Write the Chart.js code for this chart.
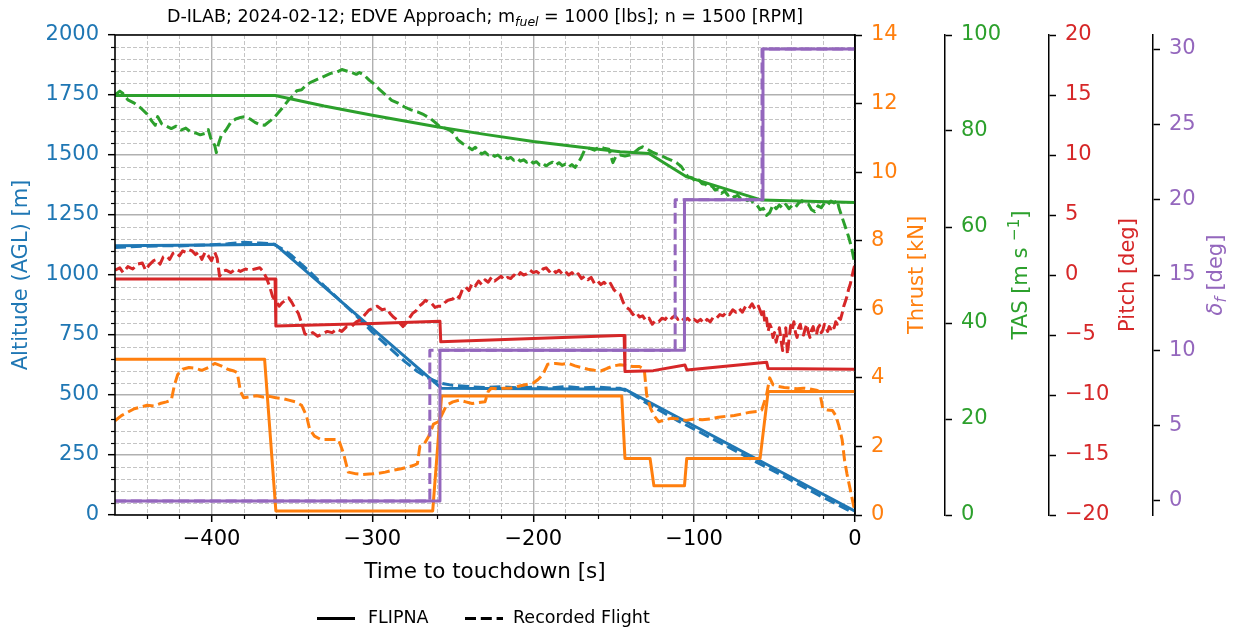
<!DOCTYPE html>
<html>
<head>
<meta charset="utf-8">
<script src="https://cdn.jsdelivr.net/npm/chart.js@4.4.1/dist/chart.umd.min.js"></script>
<style>
  html, body { margin: 0; padding: 0; background: #ffffff; }
  #wrap { width: 1236px; height: 632px; }
</style>
</head>
<body>
<div id="wrap"><canvas id="c" width="1236" height="632"></canvas></div>
<script>
// ---- Tick positions -------------------------------------------------------
const xMajorTicks = [-400, -300, -200, -100, 0];
const xMinorTicks = [-440, -420, -380, -360, -340, -320, -280, -260, -240, -220,
                     -180, -160, -140, -120, -80, -60, -40, -20];
const altTicks = [0, 250, 500, 750, 1000, 1250, 1500, 1750, 2000];
const altMinorTicks = [50, 100, 150, 200, 300, 350, 400, 450, 550, 600, 650, 700,
                       800, 850, 900, 950, 1050, 1100, 1150, 1200, 1300, 1350, 1400, 1450,
                       1550, 1600, 1650, 1700, 1800, 1850, 1900, 1950];
const thrustTicks = [0, 2, 4, 6, 8, 10, 12, 14];
const tasTicks = [0, 20, 40, 60, 80, 100];
const pitchTicks = [-20, -15, -10, -5, 0, 5, 10, 15, 20];
const flapTicks = [0, 5, 10, 15, 20, 25, 30];

// ---- FLIPNA simulation (time [s] / value) ---------------------------------
const altModelT = [-460, -400, -360.5, -257, -200, -143, 0];
const altModelV = [1122, 1125, 1128, 528, 526, 524, 16];

const thrModelT = [-460, -367, -360, -262.5, -257, -145, -143, -127.4, -125, -106, -104.6, -59, -54, 0];
const thrModelV = [4.54, 4.54, 0.12, 0.12, 3.47, 3.47, 1.65, 1.65, 0.85, 0.85, 1.65, 1.65, 3.6, 3.6];

const tasModelT = [-460, -360.5, -330, -300, -260, -230, -200, -170, -146, -128, -105, -58, 0];
const tasModelV = [87.4, 87.4, 85.2, 83.3, 80.9, 79.3, 77.8, 76.6, 75.7, 75.3, 70.5, 65.6, 65.1];

const pitchModelT = [-460, -360.5, -360, -300, -258, -257.5, -200, -146, -143.5, -143, -125.4, -105.7, -104.5,
                     -54.9, -54, 0];
const pitchModelV = [-0.33, -0.33, -4.25, -4.05, -3.85, -5.57, -5.3, -5.05, -5.05, -8.05, -7.97, -7.5, -7.92,
                     -7.28, -7.8, -7.86];

const flapModelT = [-460, -258, -258, -106, -106, -57.2, -57.2, 0];
const flapModelV = [0, 0, 10, 10, 20, 20, 30, 30];

// ---- Recorded flight ([time s, value]) ------------------------------------
const altRec = [
  [-460, 1115], [-450, 1118], [-440, 1120], [-430, 1122], [-420, 1121], [-410, 1124], [-400, 1126],
  [-390, 1130], [-380, 1136], [-370, 1133], [-362, 1130], [-355, 1105], [-350, 1080], [-340, 1020],
  [-330, 955], [-320, 893], [-310, 830], [-300, 762], [-290, 700], [-280, 640], [-272, 598], [-265, 570],
  [-258, 550], [-250, 540], [-240, 535], [-230, 531], [-220, 534], [-210, 530], [-200, 533], [-190, 529],
  [-180, 535], [-170, 530], [-160, 533], [-152, 529], [-146, 528], [-140, 510], [-130, 468], [-120, 430],
  [-110, 392], [-100, 358], [-90, 322], [-80, 288], [-70, 252], [-60, 216], [-50, 182], [-40, 146],
  [-30, 110], [-20, 74], [-10, 40], [-2, 12]
];

const thrRec = [
  [-460, 2.75], [-456, 2.9], [-452, 3.0], [-448, 3.1], [-444, 3.15], [-440, 3.2], [-436, 3.18], [-432, 3.25],
  [-428, 3.3], [-425, 3.35], [-423, 3.8], [-421, 4.1], [-418, 4.25], [-414, 4.3], [-410, 4.28], [-406, 4.22],
  [-402, 4.3], [-398, 4.42], [-394, 4.35], [-390, 4.25], [-386, 4.2], [-384, 4.15], [-382, 3.6], [-380, 3.42],
  [-376, 3.45], [-372, 3.48], [-368, 3.44], [-364, 3.46], [-360, 3.42], [-356, 3.4], [-352, 3.35], [-348, 3.3],
  [-344, 3.2], [-341, 2.9], [-339, 2.5], [-336, 2.3], [-332, 2.2], [-326, 2.2], [-321, 2.2], [-318, 1.8],
  [-315, 1.25], [-310, 1.2], [-306, 1.18], [-300, 1.2], [-296, 1.22], [-292, 1.25], [-288, 1.3], [-282, 1.35],
  [-278, 1.4], [-274, 1.45], [-272, 1.5], [-270.5, 2.0], [-268, 2.05], [-265, 2.3], [-262, 2.65], [-259, 2.72],
  [-256, 3.0], [-254, 3.2], [-250, 3.3], [-246, 3.35], [-242, 3.3], [-238, 3.25], [-234, 3.28], [-230, 3.3],
  [-228, 3.6], [-226, 3.7], [-222, 3.68], [-218, 3.7], [-214, 3.7], [-210, 3.75], [-205, 3.8], [-200, 3.85],
  [-197, 3.95], [-194, 4.1], [-191, 4.4], [-186, 4.42], [-182, 4.4], [-178, 4.42], [-174, 4.35], [-170, 4.3],
  [-166, 4.25], [-162, 4.22], [-158, 4.2], [-154, 4.28], [-150, 4.35], [-146, 4.38], [-142, 4.36], [-138, 4.33],
  [-134, 4.33], [-131, 4.25], [-129.5, 3.5], [-127, 3.1], [-125, 2.9], [-122, 2.72], [-118, 2.78], [-114, 2.82],
  [-110, 2.8], [-105, 2.76], [-100, 2.8], [-95, 2.78], [-90, 2.8], [-85, 2.85], [-80, 2.88], [-75, 2.9],
  [-70, 2.95], [-65, 3.0], [-60, 3.02], [-58, 3.06], [-55, 3.5], [-53, 4.0], [-51, 3.8], [-48, 3.75],
  [-44, 3.72], [-40, 3.7], [-36, 3.68], [-32, 3.7], [-28, 3.68], [-24, 3.64], [-22, 3.6], [-20, 3.1],
  [-17, 3.06], [-14, 3.05], [-12, 2.9], [-10, 2.6], [-8, 2.2], [-6.5, 1.6], [-5, 1.2], [-3, 0.75],
  [-1, 0.3], [0, 0.1]
];

const tasRec = [
  [-460, 87.5], [-457, 88.3], [-455, 87.8], [-452, 86.5], [-448, 85.8], [-444, 84.8], [-440, 83.5], [-437, 82.0],
  [-435, 81.2], [-433.5, 83.0], [-431, 81.5], [-428, 81.0], [-425, 80.5], [-422, 81.0], [-419, 80.2], [-416, 80.6],
  [-413, 79.8], [-410, 79.6], [-407, 79.2], [-404, 79.5], [-402, 80.3], [-400.5, 78.5], [-398, 77.0], [-397, 75.5],
  [-395.5, 77.5], [-394, 79.0], [-391, 80.2], [-388, 81.8], [-385, 82.5], [-382, 82.8], [-379, 83.0], [-376, 82.5],
  [-373, 81.8], [-370, 81.3], [-367, 81.2], [-364, 82.0], [-361, 82.8], [-358, 84.0], [-355, 85.2], [-352, 86.5],
  [-349, 87.5], [-347, 88.4], [-344, 88.6], [-341, 89.6], [-338, 90.2], [-334, 90.8], [-330, 91.4], [-326, 92.0],
  [-322, 92.3], [-319, 92.8], [-316, 92.5], [-313, 92.2], [-310, 91.8], [-308, 92.2], [-305, 91.6], [-302, 90.6],
  [-299, 89.8], [-296, 88.8], [-292, 87.6], [-288, 86.4], [-284, 85.8], [-280, 85.0], [-276, 84.4], [-272, 84.0],
  [-268, 83.4], [-264, 82.6], [-261, 81.8], [-258, 80.9], [-255, 80.6], [-252, 80.2], [-249, 79.4], [-247, 78.2],
  [-244, 77.4], [-241, 76.8], [-238, 76.1], [-236, 76.6], [-234, 75.8], [-232, 75.2], [-230, 75.6], [-228, 75.0],
  [-226, 75.3], [-224, 74.7], [-222, 75.0], [-220, 74.4], [-218, 74.8], [-216, 74.2], [-214, 74.5], [-212, 73.9],
  [-210, 74.3], [-208, 73.7], [-206, 74.0], [-204, 73.5], [-202, 73.9], [-200, 73.3], [-198, 73.6], [-196, 72.9],
  [-194, 73.3], [-192, 72.7], [-190, 73.2], [-188, 73.5], [-186, 72.9], [-184, 73.4], [-182, 72.8], [-180, 73.1],
  [-178, 72.5], [-176, 73.0], [-174, 72.4], [-172, 73.4], [-170, 74.6], [-168, 76.1], [-165, 76.4], [-162, 76.0],
  [-159, 76.7], [-156, 76.4], [-153, 76.2], [-150.5, 73.4], [-148.5, 74.8], [-146, 75.0], [-143, 74.8], [-140, 75.0],
  [-137, 75.6], [-134, 76.4], [-132, 76.7], [-129, 76.2], [-126, 75.6], [-123, 75.2], [-120, 74.8], [-117, 74.3],
  [-114, 73.9], [-111, 73.4], [-108, 72.6], [-106, 71.6], [-104, 70.5], [-101, 70.2], [-99, 69.3], [-97, 69.8],
  [-95, 69.0], [-93, 68.9], [-91, 68.2], [-89, 68.6], [-87, 67.7], [-85, 67.9], [-83, 67.0], [-81, 67.5],
  [-79, 66.6], [-77, 66.9], [-75, 66.2], [-73, 66.6], [-71, 65.9], [-69, 66.2], [-67, 65.5], [-65, 65.8],
  [-63, 64.9], [-61, 64.6], [-59, 63.6], [-57, 63.9], [-55, 62.4], [-53, 63.0], [-51, 64.6], [-49, 63.8],
  [-47, 64.6], [-45, 63.9], [-43, 64.7], [-41, 63.8], [-39, 64.5], [-37, 64.1], [-35, 65.0], [-33, 65.5],
  [-31, 64.9], [-29, 64.8], [-27, 63.6], [-25, 63.2], [-23, 64.4], [-21, 64.0], [-19, 65.0], [-17, 64.6],
  [-15, 65.4], [-13, 65.0], [-11, 65.6], [-10, 64.0], [-8, 62.0], [-6, 60.0], [-4, 58.0], [-2, 55.5],
  [-0.5, 53.0]
];

const pitchRec = [
  [-460, 0.4], [-457, 0.6], [-455, 0.2], [-452, 0.7], [-449, 0.5], [-446, 0.9], [-443, 1.0], [-441, 0.4],
  [-439, 0.8], [-436, 1.2], [-434, 1.3], [-432, 0.9], [-430, 1.5], [-428, 1.6], [-426, 1.3], [-424, 1.8],
  [-422, 1.9], [-420, 1.6], [-418, 2.0], [-416, 1.9], [-414, 2.1], [-412, 2.0], [-410, 1.7], [-408, 1.9],
  [-406, 1.3], [-404, 1.9], [-402, 1.6], [-400, 1.2], [-398, 1.9], [-396.5, 1.4], [-395, -0.1], [-393, 0.3],
  [-391, 0.4], [-388, 0.2], [-385, 0.5], [-382, 0.3], [-379, 0.5], [-376, 0.4], [-373, 0.5], [-370, 0.6],
  [-368, 0.3], [-366, -0.2], [-364, -0.9], [-362, -1.8], [-360, -2.2], [-358, -2.6], [-356, -2.3], [-354, -2.1],
  [-352, -1.9], [-350, -2.3], [-348, -2.8], [-346, -3.2], [-344, -4.0], [-342, -4.9], [-340, -5.0], [-337, -4.8],
  [-334, -5.1], [-331, -4.9], [-328, -4.7], [-325, -4.8], [-322, -4.5], [-319, -4.7], [-316, -4.3], [-313, -4.3],
  [-310, -3.9], [-307, -3.7], [-304, -3.2], [-302, -2.9], [-300, -2.8], [-297, -2.6], [-294, -2.9], [-291, -2.8],
  [-289, -3.2], [-287, -3.5], [-285, -3.7], [-283, -4.0], [-281, -4.3], [-279, -4.0], [-277, -3.6], [-275, -3.2],
  [-273, -3.0], [-271, -2.6], [-269, -2.4], [-267, -2.1], [-265, -2.3], [-263, -2.4], [-261, -2.7], [-259, -2.6],
  [-257, -2.6], [-255, -2.3], [-253, -2.1], [-250, -2.0], [-248, -1.7], [-246, -1.9], [-244, -1.2], [-242, -1.0],
  [-240, -1.3], [-238, -0.7], [-236, -0.9], [-234, -0.5], [-232, -0.8], [-230, -0.4], [-228, -0.6], [-226, -0.2],
  [-224, -0.5], [-222, -0.3], [-220, -0.1], [-218, -0.4], [-216, -0.2], [-214, -0.3], [-212, 0.0], [-210, -0.2],
  [-208, 0.2], [-206, 0.0], [-204, 0.1], [-202, 0.4], [-200, 0.2], [-198, 0.3], [-196, 0.1], [-194, 0.5],
  [-192, 0.6], [-190, 0.3], [-188, 0.5], [-186, 0.2], [-184, 0.4], [-182, 0.1], [-180, 0.3], [-178, 0.0],
  [-176, 0.2], [-174, -0.1], [-172, 0.1], [-170, -0.3], [-168, -0.1], [-166, -0.4], [-164, -0.2], [-162, -0.7],
  [-160, -0.5], [-158, -0.8], [-156, -0.6], [-154, -0.9], [-152, -0.7], [-150, -1.2], [-148, -1.5], [-146, -1.6],
  [-144, -2.3], [-142, -2.7], [-140, -2.9], [-138, -3.3], [-136, -3.1], [-134, -3.5], [-132, -3.4], [-130, -3.8],
  [-128, -3.6], [-126, -4.1], [-124, -3.8], [-122, -3.9], [-120, -3.6], [-118, -3.7], [-116, -3.4], [-114, -3.6],
  [-112, -3.4], [-110, -3.7], [-108, -3.5], [-106, -3.8], [-104, -3.6], [-102, -3.9], [-100, -3.7], [-98, -3.9],
  [-96, -3.7], [-94, -4.0], [-92, -3.7], [-90, -3.9], [-88, -3.5], [-86, -3.6], [-84, -3.3], [-82, -3.4],
  [-80, -3.1], [-78, -3.3], [-76, -2.9], [-74, -3.1], [-72, -2.8], [-70, -3.1], [-68, -2.6], [-66, -2.8],
  [-64, -2.4], [-62, -2.9], [-60, -2.6], [-58, -3.3], [-57, -2.9], [-56, -4.0], [-55, -3.6], [-54, -4.7],
  [-53, -4.1], [-52, -4.4], [-51, -5.2], [-50, -4.8], [-49, -5.6], [-48, -5.0], [-47, -4.4], [-46, -5.4],
  [-45, -6.3], [-44, -4.8], [-43, -4.4], [-42, -6.6], [-41, -5.3], [-40, -4.2], [-39, -4.6], [-38, -3.9],
  [-37, -4.8], [-36, -5.2], [-35, -4.4], [-34, -4.1], [-33, -4.9], [-32, -5.0], [-31, -4.5], [-30, -4.1],
  [-29, -4.8], [-28, -5.2], [-27, -4.6], [-26, -4.3], [-25, -4.9], [-24, -5.0], [-23, -4.4], [-22, -4.2],
  [-21, -4.8], [-20, -4.6], [-19, -4.1], [-18, -4.4], [-17, -4.7], [-16, -4.3], [-15, -4.5], [-14, -4.2],
  [-13, -4.4], [-12, -3.9], [-11, -4.1], [-10, -3.6], [-9, -3.7], [-8, -3.2], [-7, -2.6], [-6, -2.2],
  [-5, -1.8], [-4, -1.2], [-3, -0.8], [-2, -0.2], [-1, 0.4], [0, 0.9]
];

const flapRec = [
  [-460, 0], [-264.3, 0], [-264.3, 10], [-111.8, 10], [-111.8, 20], [-57.8, 20], [-57.8, 30], [0, 30]
];

// ---- Styling --------------------------------------------------------------
const FONT = 'DejaVu Sans';
const C = { blue: '#1f77b4', orange: '#ff7f0e', green: '#2ca02c', red: '#d62728', purple: '#9467bd' };
const LW = 3;
const DASH = [11, 4.8];

const zip = (ts, vs) => ts.map((t, i) => ({ x: t, y: vs[i] }));
const fromPairs = rows => rows.map(r => ({ x: r[0], y: r[1] }));
const fmt = v => (v < 0 ? '\u2212' + Math.abs(v) : String(v));

function series(label, data, color, axis, dashed) {
  return {
    label, data, yAxisID: axis,
    borderColor: color, backgroundColor: color, borderWidth: LW,
    borderDash: dashed ? DASH : [], borderJoinStyle: 'round', borderCapStyle: dashed ? 'butt' : 'round',
    pointRadius: 0, pointHoverRadius: 0, tension: 0, fill: false
  };
}

// Dataset 0 is painted last (on top).
const datasets = [
  series('Recorded Flight', fromPairs(flapRec), C.purple, 'yFlap', true),
  series('FLIPNA', zip(flapModelT, flapModelV), C.purple, 'yFlap', false),
  series('Recorded Flight', fromPairs(pitchRec), C.red, 'yPitch', true),
  series('FLIPNA', zip(pitchModelT, pitchModelV), C.red, 'yPitch', false),
  series('Recorded Flight', fromPairs(tasRec), C.green, 'yTas', true),
  series('FLIPNA', zip(tasModelT, tasModelV), C.green, 'yTas', false),
  series('Recorded Flight', fromPairs(thrRec), C.orange, 'yThr', true),
  series('FLIPNA', zip(thrModelT, thrModelV), C.orange, 'yThr', false),
  series('Recorded Flight', fromPairs(altRec), C.blue, 'yAlt', true),
  series('FLIPNA', zip(altModelT, altModelV), C.blue, 'yAlt', false)
];

const TICK_FONT = { family: FONT, size: 21 };

function sideAxis(min, max, ticks, color, width, weight) {
  return {
    type: 'linear', position: 'right', min, max, weight,
    afterBuildTicks: s => { s.ticks = ticks.map(v => ({ value: v })); },
    afterFit: s => { s.width = width; },
    ticks: { color, font: TICK_FONT, padding: 9, callback: fmt, autoSkip: false },
    grid: { drawOnChartArea: false, drawTicks: true, tickColor: '#000', tickLength: 7, tickWidth: 1.5 },
    border: { display: true, color: '#000', width: 1.5 },
    title: { display: false }
  };
}

// Minor grid, minor ticks, frame, axis titles and legend.
const decor = {
  id: 'decor',
  beforeDatasetsDraw(chart) {
    const { ctx, chartArea: a, scales } = chart;
    ctx.save();
    ctx.strokeStyle = '#c4c4c4';
    ctx.lineWidth = 1;
    ctx.setLineDash([4, 2]);
    xMinorTicks.forEach(v => {
      const px = Math.round(scales.x.getPixelForValue(v)) + 0.5;
      ctx.beginPath(); ctx.moveTo(px, a.top); ctx.lineTo(px, a.bottom); ctx.stroke();
    });
    altMinorTicks.forEach(v => {
      const py = Math.round(scales.yAlt.getPixelForValue(v)) + 0.5;
      ctx.beginPath(); ctx.moveTo(a.left, py); ctx.lineTo(a.right, py); ctx.stroke();
    });
    ctx.restore();
  },
  afterDatasetsDraw(chart) {
    const { ctx, chartArea: a, scales } = chart;
    ctx.save();
    ctx.strokeStyle = '#000';
    ctx.lineWidth = 1.2;
    xMinorTicks.forEach(v => {
      const px = Math.round(scales.x.getPixelForValue(v)) + 0.5;
      ctx.beginPath(); ctx.moveTo(px, a.bottom); ctx.lineTo(px, a.bottom + 4); ctx.stroke();
    });
    altMinorTicks.forEach(v => {
      const py = Math.round(scales.yAlt.getPixelForValue(v)) + 0.5;
      ctx.beginPath(); ctx.moveTo(a.left, py); ctx.lineTo(a.left - 4, py); ctx.stroke();
    });
    ctx.lineWidth = 1.6;
    ctx.beginPath();
    ctx.rect(a.left, a.top, a.right - a.left, a.bottom - a.top);
    ctx.stroke();
    ctx.restore();
  },
  afterDraw(chart) {
    const { ctx, chartArea: a } = chart;
    const f = (size, style) => (style ? style + ' ' : '') + size + 'px "' + FONT + '"';
    const drawParts = (cx, cy, rot, parts, color, baseline) => {
      ctx.save();
      ctx.translate(cx, cy);
      if (rot) ctx.rotate(rot);
      ctx.fillStyle = color;
      ctx.textBaseline = baseline || 'middle';
      ctx.textAlign = 'left';
      let total = 0;
      parts.forEach(p => { ctx.font = p.font; p.w = ctx.measureText(p.text).width; total += p.w; });
      let x = -total / 2;
      parts.forEach(p => { ctx.font = p.font; ctx.fillText(p.text, x, p.dy || 0); x += p.w; });
      ctx.restore();
    };
    const up = -Math.PI / 2;
    const midY = (a.top + a.bottom) / 2;
    const midX = (a.left + a.right) / 2;

    drawParts(midX, 22, 0, [
      { text: 'D-ILAB; 2024-02-12; EDVE Approach; m', font: f(17.5) },
      { text: 'fuel', font: f(12.5, 'italic'), dy: 4 },
      { text: ' = 1000 [lbs]; n = 1500 [RPM]', font: f(17.5) }
    ], '#000', 'alphabetic');

    drawParts(midX, 572, 0, [{ text: 'Time to touchdown [s]', font: f(21.5) }], '#000');
    drawParts(22, midY, up, [{ text: 'Altitude (AGL) [m]', font: f(21) }], C.blue);
    drawParts(918, midY, up, [{ text: 'Thrust [kN]', font: f(21) }], C.orange);
    drawParts(1022, midY, up, [
      { text: 'TAS [m s ', font: f(21) },
      { text: '\u22121', font: f(15), dy: -7 },
      { text: ']', font: f(21) }
    ], C.green);
    drawParts(1129, midY, up, [{ text: 'Pitch [deg]', font: f(21) }], C.red);
    drawParts(1217, midY, up, [
      { text: '\u03b4', font: f(21, 'italic') },
      { text: 'f', font: f(15, 'italic'), dy: 5 },
      { text: ' [deg]', font: f(21) }
    ], C.purple);

    // legend
    const ly = 618.5;
    ctx.save();
    ctx.strokeStyle = '#000';
    ctx.lineWidth = 3;
    ctx.beginPath(); ctx.moveTo(317, ly); ctx.lineTo(355, ly); ctx.stroke();
    ctx.setLineDash(DASH);
    ctx.beginPath(); ctx.moveTo(465, ly); ctx.lineTo(503, ly); ctx.stroke();
    ctx.restore();
    ctx.save();
    ctx.fillStyle = '#000';
    ctx.font = f(17.5);
    ctx.textBaseline = 'middle';
    ctx.textAlign = 'left';
    ctx.fillText('FLIPNA', 368, ly);
    ctx.fillText('Recorded Flight', 513, ly);
    ctx.restore();
  }
};

new Chart(document.getElementById('c'), {
  type: 'line',
  data: { datasets },
  plugins: [decor],
  options: {
    responsive: false,
    animation: false,
    devicePixelRatio: 1,
    layout: { padding: { top: 35, left: 0, right: 0, bottom: 0 } },
    plugins: { legend: { display: false }, title: { display: false }, tooltip: { enabled: false } },
    events: [],
    scales: {
      x: {
        type: 'linear', position: 'bottom', min: -460, max: 0,
        afterBuildTicks: s => { s.ticks = xMajorTicks.map(v => ({ value: v })); },
        afterFit: s => { s.height = 117; },
        ticks: { color: '#000', font: TICK_FONT, padding: 5, callback: fmt, maxRotation: 0, autoSkip: false },
        grid: { color: '#b0b0b0', lineWidth: 1.4, tickColor: '#000', tickLength: 7, tickWidth: 1.5 },
        border: { display: false }
      },
      yAlt: {
        type: 'linear', position: 'left', min: 0, max: 2000,
        afterBuildTicks: s => { s.ticks = altTicks.map(v => ({ value: v })); },
        afterFit: s => { s.width = 115; },
        ticks: { color: C.blue, font: TICK_FONT, padding: 9, callback: fmt, autoSkip: false },
        grid: { color: '#b0b0b0', lineWidth: 1.4, tickColor: '#000', tickLength: 7, tickWidth: 1.5 },
        border: { display: false }
      },
      yThr: sideAxis(0, 14, thrustTicks, C.orange, 90, 1),
      yTas: sideAxis(0, 100, tasTicks, C.green, 104, 2),
      yPitch: sideAxis(-20, 20, pitchTicks, C.red, 104, 3),
      yFlap: sideAxis(-0.93, 30.93, flapTicks, C.purple, 83, 4)
    }
  }
});
</script>
</body>
</html>
